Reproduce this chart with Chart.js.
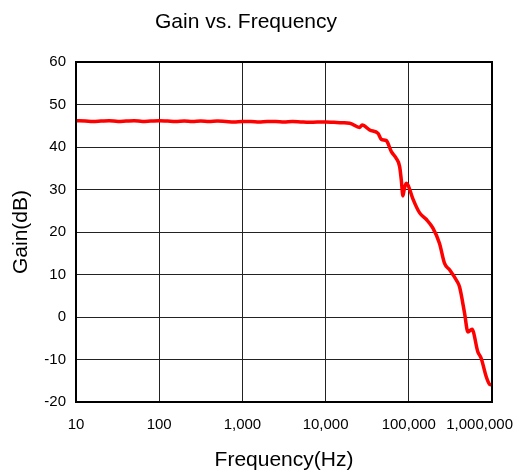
<!DOCTYPE html>
<html>
<head>
<meta charset="utf-8">
<script src="https://cdn.jsdelivr.net/npm/chart.js@4.4.1/dist/chart.umd.min.js"></script>
<style>
  html, body { margin: 0; padding: 0; background: #fff; }
  #wrap { width: 513px; height: 475px; }
</style>
</head>
<body>
<div id="wrap"><canvas id="myChart"></canvas></div>
<script>
// frequency (Hz) and gain (dB)
const freqs = [10, 13, 16, 20, 25, 32, 40, 50, 63, 79, 100, 126, 158, 200, 251, 316, 398, 501, 631, 794,
  1000, 1259, 1585, 1995, 2512, 3162, 3981, 5012, 6310, 7943, 10000, 12589, 15849, 19500, 25700, 27500,
  33900, 42700, 46800, 53700, 61700, 70800, 77600, 81300, 85000, 88000, 93000, 98000, 112000, 135000,
  162000, 195000, 234000, 269000, 309000, 372000, 407000, 468000, 513000, 575000, 676000, 741000,
  851000, 933000, 1000000];
const gains = [46.2, 46.1, 46.0, 46.1, 46.2, 46.0, 46.1, 46.2, 46.0, 46.1, 46.2, 46.1, 46.0, 46.1, 46.0,
  46.1, 46.0, 46.1, 46.0, 45.9, 46.0, 46.0, 45.9, 46.0, 46.0, 45.9, 46.0, 45.9, 45.8, 45.9, 45.9, 45.8,
  45.7, 45.6, 44.6, 45.2, 44.0, 43.2, 41.8, 41.5, 38.9, 37.3, 35.4, 32.2, 28.5, 30.0, 31.5, 31.0, 27.8,
  24.5, 23.0, 20.9, 17.3, 12.6, 11.1, 8.7, 7.1, 0.9, -3.5, -2.9, -8.2, -9.7, -14.0, -15.8, -16.0];
const xTickValues = [10, 100, 1000, 10000, 100000, 1000000];
const yMin = -20, yMax = 60, yStep = 10;

const points = [];
for (var i = 0; i < freqs.length; i++) {
  points.push({ x: freqs[i], y: gains[i] });
}

const FONT = "'Liberation Sans', Arial, sans-serif";

// box around the plot area, and push the last x label against the right edge
const plotBorder = {
  id: 'plotBorder',
  beforeDraw: function(chart) {
    const items = chart.scales.x.getLabelItems();
    if (items && items.length) {
      const last = items[items.length - 1];
      last.options.textAlign = 'right';
      last.options.translation[0] = chart.width;
    }
  },
  afterDraw: function(chart) {
    const a = chart.chartArea;
    const ctx = chart.ctx;
    ctx.save();
    ctx.strokeStyle = '#000';
    ctx.lineWidth = 2;
    ctx.strokeRect(a.left, a.top, a.right - a.left, a.bottom - a.top);
    ctx.restore();
  }
};

var ctx = document.getElementById('myChart').getContext('2d');
var chart = new Chart(ctx, {
  type: 'line',
  data: {
    datasets: [{
      label: 'Gain',
      data: points,
      borderColor: '#ff0000',
      backgroundColor: '#ff0000',
      borderWidth: 3.5,
      pointRadius: 0,
      cubicInterpolationMode: 'monotone',
      fill: false
    }]
  },
  options: {
    responsive: true,
    maintainAspectRatio: false,
    animation: false,
    layout: { padding: { left: 0, right: 21, top: 0, bottom: 0 } },
    plugins: {
      legend: { display: false },
      tooltip: { enabled: false },
      title: {
        display: true,
        text: 'Gain vs. Frequency',
        color: '#000',
        font: { family: FONT, size: 21, weight: 'normal' },
        padding: { top: 10, bottom: 26.8 }
      }
    },
    scales: {
      x: {
        type: 'logarithmic',
        min: 10,
        max: 1000000,
        afterBuildTicks: function(scale) {
          scale.ticks = xTickValues.map(function(v) { return { value: v }; });
        },
        afterFit: function(scale) {
          scale.height = 73;
          scale.paddingLeft = 0;
          scale.paddingRight = 0;
        },
        grid: { color: '#222', lineWidth: 1, drawTicks: false },
        border: { display: false },
        ticks: {
          color: '#000',
          padding: 14,
          maxRotation: 0,
          autoSkip: false,
          font: { family: FONT, size: 15 },
          callback: function(v) { return Number(v).toLocaleString('en-US'); }
        },
        title: {
          display: true,
          text: 'Frequency(Hz)',
          color: '#000',
          font: { family: FONT, size: 21 },
          padding: { top: 0, bottom: 2 }
        }
      },
      y: {
        min: yMin,
        max: yMax,
        afterFit: function(scale) {
          scale.width = 76;
          scale.paddingTop = 0;
          scale.paddingBottom = 0;
        },
        grid: { color: '#222', lineWidth: 1, drawTicks: false },
        border: { display: false },
        ticks: {
          stepSize: yStep,
          color: '#000',
          padding: 10,
          font: { family: FONT, size: 15 }
        },
        title: {
          display: true,
          text: 'Gain(dB)',
          color: '#000',
          font: { family: FONT, size: 21 },
          padding: { top: 8.5, bottom: 0 }
        }
      }
    }
  },
  plugins: [plotBorder]
});
</script>
</body>
</html>
